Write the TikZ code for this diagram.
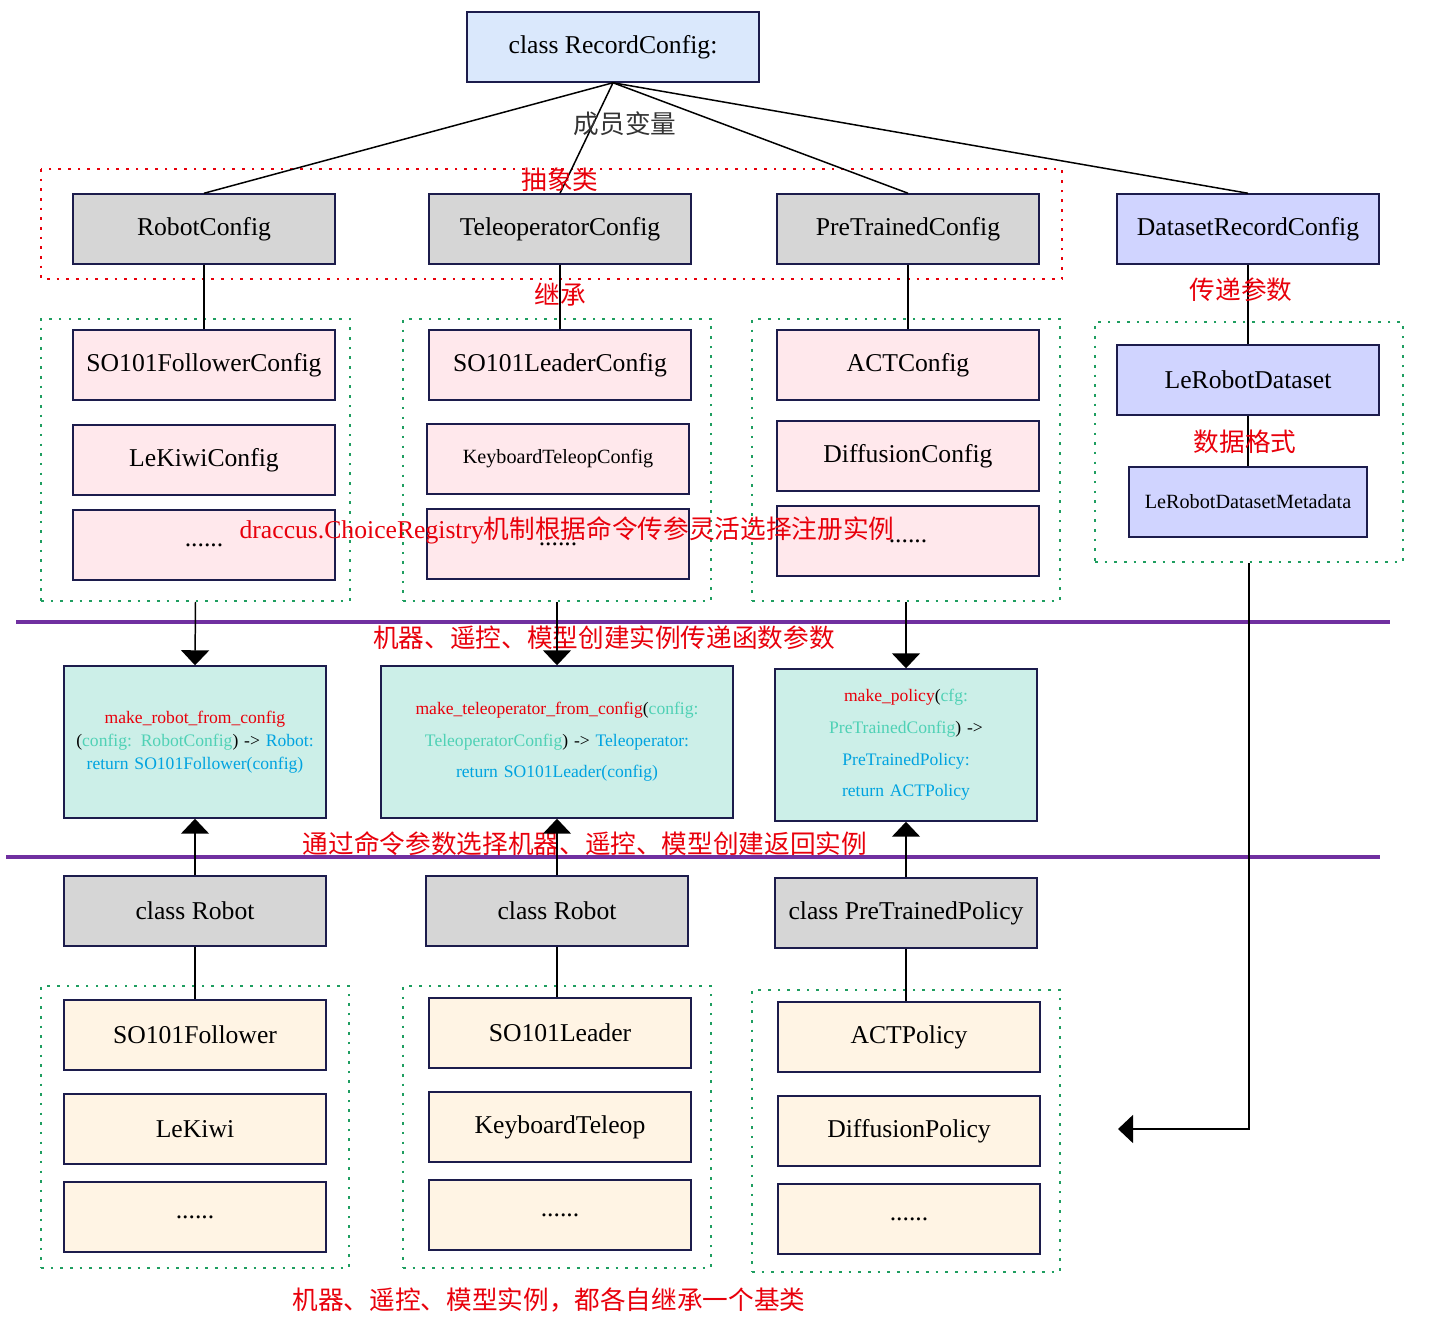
\documentclass[tikz,border=0pt]{standalone}
\usepackage{fontspec}
\setmainfont{Liberation Serif}
\newfontfamily\cjk{Noto Sans CJK SC}
\usetikzlibrary{arrows.meta}
\definecolor{edge}{HTML}{1C1C4C}
\definecolor{cblue}{HTML}{DAE8FC}
\definecolor{cgray}{HTML}{D6D6D6}
\definecolor{cviolet}{HTML}{D0D4FF}
\definecolor{cpink}{HTML}{FFE8EC}
\definecolor{cteal}{HTML}{CCEFE8}
\definecolor{ccream}{HTML}{FFF4E4}
\definecolor{ired}{HTML}{E8000B}
\definecolor{iteal}{HTML}{4FD1B5}
\definecolor{iblue}{HTML}{00A3E0}
\definecolor{band}{HTML}{7030A0}
\definecolor{grp}{HTML}{1E9E60}
\tikzset{
  box/.style={draw=edge, line width=0.85pt, minimum width=5.24cm, minimum height=1.4cm,
    inner sep=1pt, font=\fontsize{14.6}{17}\selectfont},
  grp/.style={draw=grp, dash pattern=on 1.5pt off 4pt, line width=0.9pt},
  note/.style={text=ired, font=\cjk\fontsize{14.6}{17}\selectfont, inner sep=1pt},
  code/.style={draw=edge, line width=0.85pt, fill=cteal, align=center, inner sep=2pt,
    font=\fontsize{10}{18}\selectfont},
  tip/.style={-{Triangle[width=0.56cm,length=0.3cm]}, line width=0.85pt},
}
\begin{document}
\begin{tikzpicture}[x=0.02cm, y=-0.02cm]
    \useasboundingbox (0,0) rectangle (1443,1319);

    % Wurzel
    \node[box, fill=cblue, minimum width=5.84cm] (rec) at (613,47) {class RecordConfig:};

    % abstrakte Konfigurationen
    \draw[ired, dash pattern=on 1.5pt off 4pt, line width=0.9pt] (41,169) rectangle (1062,279);
    \node[box, fill=cgray] (robcfg) at (204,229) {RobotConfig};
    \node[box, fill=cgray] (telcfg) at (560,229) {TeleoperatorConfig};
    \node[box, fill=cgray] (polcfg) at (908,229) {PreTrainedConfig};
    \node[box, fill=cviolet] (dscfg) at (1248,229) {DatasetRecordConfig};
    \foreach \n in {robcfg,telcfg,polcfg,dscfg}
        \draw[line width=0.85pt] (rec.south) -- (\n.north);

    % Gruppen der Konfigurationen
    \node[grp, minimum width=6.18cm, minimum height=5.64cm] (grobcfg) at (195.5,460) {};
    \node[grp, minimum width=6.16cm, minimum height=5.64cm] (gtelcfg) at (557,460) {};
    \node[grp, minimum width=6.16cm, minimum height=5.64cm] (gpolcfg) at (906,460) {};
    \node[grp, minimum width=6.16cm, minimum height=4.8cm] (gds) at (1249,442) {};

    \node[box, fill=cpink] (so1cfg) at (204,365) {SO101FollowerConfig};
    \node[box, fill=cpink] (kiwicfg) at (204,460) {LeKiwiConfig};
    \node[box, fill=cpink] (morobcfg) at (204,545) {......};
    \node[box, fill=cpink] (leadcfg) at (560,365) {SO101LeaderConfig};
    \node[box, fill=cpink, font=\fontsize{11.5}{13}\selectfont] (kbcfg) at (558,459) {KeyboardTeleopConfig};
    \node[box, fill=cpink] (motelcfg) at (558,544) {......};
    \node[box, fill=cpink] (actcfg) at (908,365) {ACTConfig};
    \node[box, fill=cpink] (diffcfg) at (908,456) {DiffusionConfig};
    \node[box, fill=cpink] (mopolcfg) at (908,541) {......};
    \node[box, fill=cviolet] (lrds) at (1248,380) {LeRobotDataset};
    \node[box, fill=cviolet, minimum width=4.76cm, font=\fontsize{11.5}{13}\selectfont] (lrmeta) at (1248,502) {LeRobotDatasetMetadata};

    \draw[line width=0.85pt] (robcfg.south) -- (so1cfg.north);
    \draw[line width=0.85pt] (telcfg.south) -- (leadcfg.north);
    \draw[line width=0.85pt] (polcfg.south) -- (actcfg.north);
    \draw[line width=0.85pt] (dscfg.south) -- (lrds.north);
    \draw[line width=0.85pt] (lrds.south) -- (lrmeta.north);

    % Beschriftungen oben
    \node[note, text=black!80] (lmem) at (625,124) {成员变量};
    \node[note] (labs) at (560,180) {抽象类};
    \node[note] (linh) at (560,295) {继承};
    \node[note] (lpass) at (1241,290) {传递参数};
    \node[note] (lfmt) at (1245,442) {数据格式};
    \node[note] (ldrac) at (567,530) {\rmfamily draccus.ChoiceRegistry\cjk 机制根据命令传参灵活选择注册实例};

    % Trennlinien
    \draw[band, line width=2.2pt] (16,622) -- (1390,622);
    \draw[band, line width=2.2pt] (6,857) -- (1380,857);
    \node[note] (lpar) at (604,638) {机器、遥控、模型创建实例传递函数参数};

    % Fabrikfunktionen
    \node[code, minimum width=5.24cm, minimum height=3.04cm, text width=5cm] (mkrob) at (195,742)
        {\textcolor{ired}{make\_robot\_from\_config}\\[-5pt](\textcolor{iteal}{config: RobotConfig}) -> \textcolor{iblue}{Robot:}\\[-5pt]\textcolor{iblue}{return SO101Follower(config)}};
    \node[code, minimum width=7.04cm, minimum height=3.04cm, text width=6.8cm] (mktel) at (557,742)
        {\textcolor{ired}{make\_teleoperator\_from\_config}(\textcolor{iteal}{config:}\\\textcolor{iteal}{TeleoperatorConfig}) -> \textcolor{iblue}{Teleoperator:}\\\textcolor{iblue}{return SO101Leader(config)}};
    \node[code, minimum width=5.24cm, minimum height=3.04cm, text width=5cm] (mkpol) at (906,745)
        {\textcolor{ired}{make\_policy}(\textcolor{iteal}{cfg:}\\\textcolor{iteal}{PreTrainedConfig}) ->\\\textcolor{iblue}{PreTrainedPolicy:}\\\textcolor{iblue}{return ACTPolicy}};

    \draw[tip] (grobcfg.south) -- (mkrob.north);
    \draw[tip] (gtelcfg.south) -- (mktel.north);
    \draw[tip] (gpolcfg.south) -- (mkpol.north);

    \node[note] (lret) at (585,844) {通过命令参数选择机器、遥控、模型创建返回实例};

    % Basisklassen
    \node[box, fill=cgray] (robot) at (195,911) {class Robot};
    \node[box, fill=cgray] (teleop) at (557,911) {class Robot};
    \node[box, fill=cgray] (policy) at (906,913) {class PreTrainedPolicy};
    \draw[tip] (robot.north) -- (mkrob.south);
    \draw[tip] (teleop.north) -- (mktel.south);
    \draw[tip] (policy.north) -- (mkpol.south);

    % Gruppen der Instanzen
    \node[grp, minimum width=6.16cm, minimum height=5.64cm] (grob) at (195,1127) {};
    \node[grp, minimum width=6.16cm, minimum height=5.64cm] (gtel) at (557,1127) {};
    \node[grp, minimum width=6.16cm, minimum height=5.64cm] (gpol) at (906,1131) {};

    \node[box, fill=ccream] (so1) at (195,1035) {SO101Follower};
    \node[box, fill=ccream] (kiwi) at (195,1129) {LeKiwi};
    \node[box, fill=ccream] (morob) at (195,1217) {......};
    \node[box, fill=ccream] (lead) at (560,1033) {SO101Leader};
    \node[box, fill=ccream] (kb) at (560,1127) {KeyboardTeleop};
    \node[box, fill=ccream] (motel) at (560,1215) {......};
    \node[box, fill=ccream] (act) at (909,1037) {ACTPolicy};
    \node[box, fill=ccream] (diff) at (909,1131) {DiffusionPolicy};
    \node[box, fill=ccream] (mopol) at (909,1219) {......};

    \draw[line width=0.85pt] (robot.south) -- (so1.north);
    \draw[line width=0.85pt] (teleop.south) -- (teleop.south |- lead.north);
    \draw[line width=0.85pt] (policy.south) -- (policy.south |- act.north);

    % Datensatz zu Richtlinie
    \coordinate (dsend) at (1118,1129);
    \draw[tip] (gds.south) |- (dsend);

    \node[note] (lbase) at (549,1300) {机器、遥控、模型实例，都各自继承一个基类};
\end{tikzpicture}
\end{document}
